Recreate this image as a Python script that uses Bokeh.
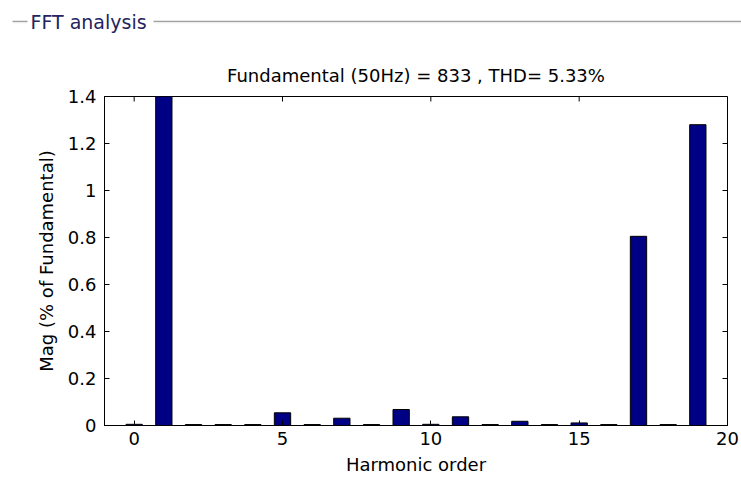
from bokeh.plotting import figure
from bokeh.models import ColumnDataSource, Range1d, FixedTicker
from bokeh.layouts import column
from bokeh.core.properties import value
from bokeh.embed import file_html
from bokeh.resources import INLINE

# Harmonic spectrum (magnitude in % of the fundamental)
harmonic_order = list(range(20))
magnitude = [0.005, 100.0, 0.004, 0.004, 0.004, 0.054, 0.004, 0.031, 0.004, 0.068,
             0.005, 0.037, 0.004, 0.018, 0.004, 0.011, 0.004, 0.805, 0.004, 1.28]

title_text = "Fundamental (50Hz) = 833 , THD= 5.33%"
panel_text = "FFT analysis"
x_ticks = [0, 5, 10, 15, 20]
y_ticks = [0, 0.2, 0.4, 0.6, 0.8, 1.0, 1.2, 1.4]
y_tick_labels = ["0", "0.2", "0.4", "0.6", "0.8", "1", "1.2", "1.4"]

FONT = "DejaVu Sans"
W, H = 741, 480
HEAD_H = 40
LEFT, RIGHT, TOP, BOTTOM = 104, 14, 96 - HEAD_H, 55
X_LO, X_HI, Y_LO, Y_HI = -1, 20, 0, 1.4
TICK_PX = 5

# ---- group-box header: caption with an etched rule on both sides ----
head = figure(width=W, height=HEAD_H, output_backend="svg", toolbar_location=None,
              x_range=Range1d(0, W), y_range=Range1d(HEAD_H, 0),
              min_border=0, outline_line_color=None,
              background_fill_color="white", border_fill_color="white")
head.axis.visible = False
head.grid.visible = False
head.segment(x0=[12, 153], y0=[21, 21], x1=[27, W], y1=[21, 21],
             line_color="#a0a0a0", line_width=1.5)
head.segment(x0=[12, 153], y0=[22.5, 22.5], x1=[27, W], y1=[22.5, 22.5],
             line_color="#f4f4f4", line_width=1)
head.text(x=[30], y=[21], text=[panel_text], text_font=value(FONT),
          text_font_size="19px", text_color="#24245e",
          text_baseline="middle", text_align="left")

# ---- bar chart ----
src = ColumnDataSource(dict(x=harmonic_order, top=magnitude))

p = figure(width=W, height=H - HEAD_H, output_backend="svg", toolbar_location=None,
           x_range=Range1d(X_LO, X_HI), y_range=Range1d(Y_LO, Y_HI),
           min_border_left=LEFT, min_border_right=RIGHT,
           min_border_top=TOP, min_border_bottom=BOTTOM,
           background_fill_color="white", border_fill_color="white")

# each plot keeps its own frame instead of being aligned with its neighbour
for fig in (head, p):
    try:
        fig.frame_align = False
    except AttributeError:
        pass

p.vbar(x="x", top="top", bottom=0, width=0.55, source=src,
       fill_color="#000084", line_color="black", line_width=1)

p.outline_line_color = "black"
p.outline_line_width = 1
p.xgrid.visible = False
p.ygrid.visible = False

p.title.text = title_text
p.title.align = "center"
p.title.text_font = FONT
p.title.text_font_size = "18px"
p.title.text_font_style = "normal"
p.title.text_color = "black"
p.title.standoff = 22

def style_axis(ax, ticks):
    ax.ticker = FixedTicker(ticks=ticks)
    ax.axis_line_color = "black"
    ax.major_tick_line_color = "black"
    ax.major_tick_in = TICK_PX
    ax.major_tick_out = 0
    ax.minor_tick_line_color = None
    ax.major_label_text_font = FONT
    ax.major_label_text_font_size = "18px"
    ax.major_label_text_color = "black"
    ax.axis_label_text_font = FONT
    ax.axis_label_text_font_size = "18px"
    ax.axis_label_text_font_style = "normal"
    ax.axis_label_text_color = "black"

xa = p.xaxis[0]
style_axis(xa, x_ticks)
xa.axis_label = "Harmonic order"
xa.major_label_standoff = 6
xa.axis_label_standoff = 6

ya = p.yaxis[0]
style_axis(ya, y_ticks)
ya.major_label_overrides = {t: s for t, s in zip(y_ticks, y_tick_labels)}
ya.axis_label = "Mag (% of Fundamental)"
ya.major_label_standoff = 8
ya.axis_label_standoff = 8

# mirrored inward tick marks on the top and right sides of the box
frame_w = W - LEFT - RIGHT
frame_h = H - HEAD_H - TOP - BOTTOM
dx = TICK_PX * (X_HI - X_LO) / frame_w
dy = TICK_PX * (Y_HI - Y_LO) / frame_h
p.segment(x0=x_ticks, y0=[Y_HI] * len(x_ticks), x1=x_ticks, y1=[Y_HI - dy] * len(x_ticks),
          line_color="black", line_width=1)
p.segment(x0=[X_HI] * len(y_ticks), y0=y_ticks, x1=[X_HI - dx] * len(y_ticks), y1=y_ticks,
          line_color="black", line_width=1)

layout = column(head, p, spacing=0)
open("out.html", "w").write(file_html(layout, INLINE))
